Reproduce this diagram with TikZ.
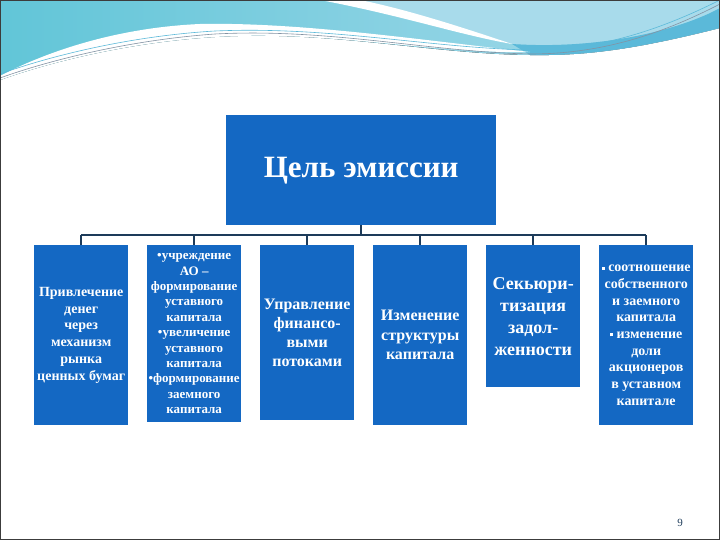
\documentclass[tikz,border=0pt]{standalone}
\usepackage{fontspec}
\setmainfont{Liberation Serif}
\usetikzlibrary{positioning}
\definecolor{emBox}{HTML}{1468C3}
\definecolor{emLine}{HTML}{1D3B5A}
\definecolor{emSky}{HTML}{7DB2D0}
\definecolor{emCyan}{HTML}{4FD2DD}
\definecolor{emPale}{HTML}{A8DBEB}
\definecolor{emTeal}{HTML}{5BB9D9}
\definecolor{emFrame}{HTML}{3C3C3C}
\newcommand{\sqbul}{\raisebox{2pt}{\rule{3pt}{3pt}}}
\tikzset{
  embox/.style={fill=emBox, text=white, font=\bfseries, align=center,
    minimum width=94pt, inner sep=1pt, anchor=north west},
  goalbox/.style={embox, minimum width=270pt, minimum height=110pt,
    font=\bfseries\fontsize{31}{36}\selectfont},
  busline/.style={draw=emLine, line width=2.2pt},
  wave/.style={draw=emLine!55, line width=0.6pt}
}
\begin{document}
\begin{tikzpicture}[x=1pt, y=-1pt, node distance=18.6pt]
  \useasboundingbox (0,0) rectangle (720,540);
  \fill[left color=emCyan!60!emSky, right color=emPale] (0,0) -- (720,0) -- (720,28)
    .. controls (640,48) and (590,56) .. (530,55)
    .. controls (430,54) and (330,30) .. (215,37)
    .. controls (130,42) and (50,62) .. (0,80) -- cycle;
  \fill[emPale] (360,0) .. controls (410,12) and (470,32) .. (512,44)
    .. controls (600,50) and (680,30) .. (720,8) -- (720,0) -- cycle;
  \fill[emTeal] (512,44) .. controls (600,50) and (680,30) .. (720,8) -- (720,28)
    .. controls (640,48) and (590,56) .. (530,55) -- cycle;
  \fill[white] (320,0) .. controls (400,15) and (460,35) .. (512,44)
    .. controls (470,30) and (410,10) .. (360,0) -- cycle;
  \fill[white] (0,76) .. controls (40,55) and (110,28) .. (200,24)
    .. controls (300,22) and (420,40) .. (530,52)
    .. controls (430,54) and (330,30) .. (215,37)
    .. controls (130,42) and (50,62) .. (0,80) -- cycle;
  \draw[wave] (0,78) .. controls (50,60) and (130,40) .. (215,34)
    .. controls (330,28) and (430,52) .. (530,54)
    .. controls (600,54) and (660,35) .. (720,4);
  \draw[wave, emTeal] (0,74) .. controls (50,56) and (130,36) .. (215,31)
    .. controls (330,26) and (430,48) .. (530,50)
    .. controls (600,50) and (660,30) .. (720,0);

  \node[goalbox] (goal) at (226,115) {Цель эмиссии};

  \node[embox, minimum height=180pt, font=\bfseries\fontsize{14}{16.7}\selectfont] (attract) at (34,245)
    {Привлечение\\денег\\через\\механизм\\рынка\\ценных бумаг};
  \node[embox, minimum height=177pt, font=\bfseries\fontsize{13}{15.4}\selectfont,
    right=of attract.north east, anchor=north west] (capital)
    {\textbullet учреждение\\АО --\\формирование\\уставного\\капитала\\\textbullet увеличение\\уставного\\капитала\\\textbullet формирование\\заемного\\капитала};
  \node[embox, minimum height=175pt, font=\bfseries\fontsize{16}{19}\selectfont,
    right=of capital.north east, anchor=north west] (flows)
    {Управление\\финансо-\\выми\\потоками};
  \node[embox, minimum height=180pt, font=\bfseries\fontsize{16}{19.5}\selectfont,
    right=of flows.north east, anchor=north west] (struct)
    {Изменение\\структуры\\капитала};
  \node[embox, minimum height=142pt, font=\bfseries\fontsize{18}{22}\selectfont,
    right=of struct.north east, anchor=north west] (secur)
    {Секьюри-\\тизация\\задол-\\женности};
  \node[embox, minimum height=180pt, font=\bfseries\fontsize{14}{16.7}\selectfont,
    right=of secur.north east, anchor=north west] (ratio)
    {\sqbul\ соотношение\\собственного\\и заемного\\капитала\\\sqbul\ изменение\\доли\\акционеров\\в уставном\\капитале};

  \coordinate (bus) at (0,235);
  \draw[busline] (goal.south) -- (goal.south |- bus);
  \draw[busline] (attract.north |- bus) -- (ratio.north |- bus);
  \foreach \n in {attract, capital, flows, struct, secur, ratio}{\draw[busline] (\n.north |- bus) -- (\n.north);}

  \node[font=\fontsize{11}{13}\selectfont, text=emLine] (page) at (680,523) {9};
  \draw[emFrame, line width=1.5pt] (0,0) rectangle (720,540);
\end{tikzpicture}
\end{document}
